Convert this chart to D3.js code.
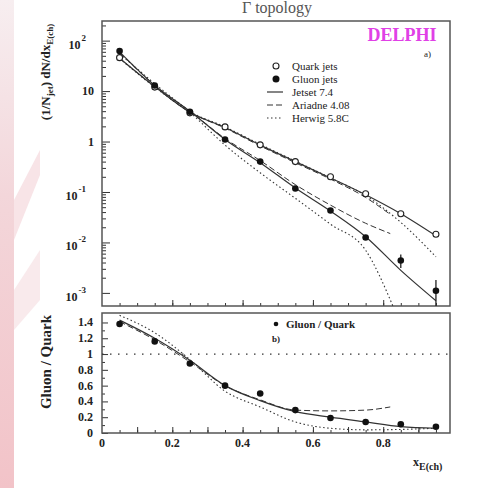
<!DOCTYPE html>
<html>
<head>
<meta charset="utf-8">
<script src="https://cdn.jsdelivr.net/npm/d3@7"></script>
<style>
  body { margin: 0; background: #fff; }
  svg { display: block; font-family: "Liberation Serif", "DejaVu Serif", serif; }
  .axis path { stroke: none; }
  .axis line { stroke: #333; }
</style>
</head>
<body>
<svg id="chart"></svg>
<script>
// data
const xBins = [0.05, 0.15, 0.25, 0.35, 0.45, 0.55, 0.65, 0.75, 0.85, 0.95];
const quarkData = [46, 12, 3.7, 1.95, 0.86, 0.40, 0.20, 0.092, 0.037, 0.0145];
const gluonData = [62, 12.9, 3.9, 1.1, 0.40, 0.117, 0.043, 0.0125, 0.0044, 0.0011];
const gluonErrLo = [null, null, null, null, null, null, null, null, 0.0031, 0.0003];
const gluonErrHi = [null, null, null, null, null, null, null, null, 0.0058, 0.0018];

const jetsetQuark = [45, 12.3, 3.8, 1.9, 0.85, 0.40, 0.19, 0.088, 0.037, 0.0135];
const jetsetGluon = [60, 13, 4.0, 1.1, 0.38, 0.12, 0.042, 0.013, 0.0028, 0.0007];
const ariadneX = [0.05, 0.15, 0.25, 0.35, 0.45, 0.55, 0.65, 0.75, 0.82];
const ariadneQuark = [45, 12.2, 3.8, 1.85, 0.82, 0.38, 0.18, 0.078, 0.036];
const ariadneGluon = [58, 13, 4.0, 1.15, 0.42, 0.14, 0.055, 0.024, 0.015];
const herwigX = [0.05, 0.15, 0.25, 0.35, 0.45, 0.55, 0.65, 0.75, 0.85, 0.95];
const herwigQuark = [44, 12, 3.9, 1.95, 0.88, 0.41, 0.19, 0.085, 0.025, 0.0052];
const herwigGluonX = [0.05, 0.15, 0.25, 0.35, 0.45, 0.55, 0.65, 0.75, 0.83];
const herwigGluon = [55, 14, 3.8, 0.85, 0.24, 0.075, 0.023, 0.007, 0.0005];

const ratioData = [1.38, 1.16, 0.88, 0.60, 0.50, 0.29, 0.19, 0.14, 0.11, 0.08];
const jetsetRatio = [1.43, 1.2, 0.92, 0.6, 0.41, 0.27, 0.2, 0.14, 0.08, 0.06];
const ariadneRatio = [1.41, 1.18, 0.9, 0.6, 0.42, 0.29, 0.28, 0.29, 0.33];
const herwigRatio = [1.49, 1.27, 0.93, 0.53, 0.33, 0.14, 0.06, 0.04, 0.045, 0.06];

const decades = [1e-3, 1e-2, 1e-1, 1, 10, 100];
const decadeLabels = [["10", "-3"], ["10", "-2"], ["10", "-1"], ["1", ""], ["10", ""], ["10", "2"]];
const ratioTicks = [0, 0.2, 0.4, 0.6, 0.8, 1, 1.2, 1.4];
const ratioLabels = ["0", "0.2", "0.4", "0.6", "0.8", "1", "1.2", "1.4"];
const xTicks = [0, 0.2, 0.4, 0.6, 0.8];
const xLabels = ["0", "0.2", "0.4", "0.6", "0.8"];

const svgWidth = 485, svgHeight = 488;
const frame = {left: 102, right: 450, top: 21, mid1: 306, mid2: 313, bottom: 433};

const chart = d3.select('#chart')
    .attr("width", svgWidth)
    .attr("height", svgHeight);

// pinkish slide edge on the left
const defs = chart.append("defs");
const grad = defs.append("linearGradient").attr("id", "edge")
    .attr("x1", 0).attr("y1", 0).attr("x2", 0).attr("y2", 1);
grad.append("stop").attr("offset", "0%").attr("stop-color", "#f7eef0");
grad.append("stop").attr("offset", "40%").attr("stop-color", "#f3d6da");
grad.append("stop").attr("offset", "100%").attr("stop-color", "#f2c3c8");
chart.append("rect").attr("x", 0).attr("y", 0).attr("width", 14).attr("height", svgHeight)
    .attr("fill", "url(#edge)");
chart.append("path").attr("d", "M14,200 L40,150 L40,175 L14,240 Z").attr("fill", "#f8e4e7");
chart.append("path").attr("d", "M14,290 L40,250 L40,300 L14,330 Z").attr("fill", "#f9eaec");

defs.append("clipPath").attr("id", "clipTop").append("rect")
    .attr("x", frame.left).attr("y", frame.top)
    .attr("width", frame.right - frame.left).attr("height", frame.mid1 - frame.top);
defs.append("clipPath").attr("id", "clipBot").append("rect")
    .attr("x", frame.left).attr("y", frame.mid2)
    .attr("width", frame.right - frame.left).attr("height", frame.bottom - frame.mid2);

// scales
var xScale = d3.scaleLinear().domain([0, 0.99]).range([frame.left, frame.right]);
var yTop = d3.scaleLog().domain([5.5e-4, 245]).range([frame.mid1, frame.top]);
var yBot = d3.scaleLinear().domain([0, 1.52]).range([frame.bottom, frame.mid2]);

// title (cut off at the top of the slide)
chart.append("text").attr("x", 277).attr("y", 13)
    .attr("text-anchor", "middle").style("font-size", "16px").style("fill", "#555")
    .text("Γ topology");

// axes - top panel
chart.append("g").attr("class", "axis")
    .attr("transform", "translate(" + frame.left + ",0)")
    .call(d3.axisLeft(yTop).tickValues(decades).tickSize(-8).tickFormat(""));
var minors = [];
decades.forEach(function(d) { for (var k = 2; k <= 9; k++) minors.push(d * k); });
minors = minors.filter(function(v) { return v < 245; });
chart.append("g").attr("class", "axis")
    .attr("transform", "translate(" + frame.left + ",0)")
    .call(d3.axisLeft(yTop).tickValues(minors).tickSize(-4).tickFormat(""));

var labs = chart.append("g").selectAll("text").data(decades).enter().append("text")
    .attr("x", 94)
    .attr("y", function(d) { return yTop(d) + 4; })
    .attr("text-anchor", "end")
    .style("font-size", "12px").style("font-weight", "bold").style("fill", "#222");
labs.each(function(d, i) {
    var t = d3.select(this);
    var lab = decadeLabels[i];
    if (lab[1] === "") {
        t.text(lab[0]);
    } else {
        t.attr("x", 86).attr("y", yTop(d) + 8);
        t.append("tspan").text(lab[0]);
        t.append("tspan").attr("dy", -8).attr("dx", 1).style("font-size", "9px").text(lab[1]);
    }
});

chart.append("g").attr("class", "axis")
    .attr("transform", "translate(0," + frame.mid1 + ")")
    .call(d3.axisBottom(xScale).tickValues(d3.range(0.05, 0.99, 0.05)).tickSize(-3).tickFormat(""));
chart.append("g").attr("class", "axis")
    .attr("transform", "translate(0," + frame.mid1 + ")")
    .call(d3.axisBottom(xScale).tickValues([0.2, 0.4, 0.6, 0.8]).tickSize(-6).tickFormat(""));

// axes - bottom panel
chart.append("g").attr("class", "axis")
    .attr("transform", "translate(" + frame.left + ",0)")
    .call(d3.axisLeft(yBot).tickValues(ratioTicks).tickSize(-6).tickFormat(""));
chart.append("g").attr("class", "axis")
    .attr("transform", "translate(" + frame.left + ",0)")
    .call(d3.axisLeft(yBot).tickValues(d3.range(0.1, 1.5, 0.2)).tickSize(-3).tickFormat(""));
chart.append("g").selectAll("text").data(ratioTicks).enter().append("text")
    .attr("x", 93)
    .attr("y", function(d) { return yBot(d) + 4; })
    .attr("text-anchor", "end")
    .style("font-size", "12px").style("font-weight", "bold").style("fill", "#222")
    .text(function(d, i) { return ratioLabels[i]; });

chart.append("g").attr("class", "axis")
    .attr("transform", "translate(0," + frame.bottom + ")")
    .call(d3.axisBottom(xScale).tickValues(d3.range(0.05, 0.99, 0.05)).tickSize(-3).tickFormat(""));
chart.append("g").attr("class", "axis")
    .attr("transform", "translate(0," + frame.bottom + ")")
    .call(d3.axisBottom(xScale).tickValues([0.1, 0.2, 0.3, 0.4, 0.5, 0.6, 0.7, 0.8, 0.9]).tickSize(-6).tickFormat(""));
chart.append("g").selectAll("text").data(xTicks).enter().append("text")
    .attr("x", function(d) { return xScale(d); })
    .attr("y", 447)
    .attr("text-anchor", "middle")
    .style("font-size", "12px").style("font-weight", "bold").style("fill", "#222")
    .text(function(d, i) { return xLabels[i]; });

// frames
chart.append("rect").attr("x", frame.left).attr("y", frame.top)
    .attr("width", frame.right - frame.left).attr("height", frame.mid1 - frame.top)
    .attr("fill", "none").attr("stroke", "#555").attr("stroke-width", 1.5);
chart.append("rect").attr("x", frame.left).attr("y", frame.mid2)
    .attr("width", frame.right - frame.left).attr("height", frame.bottom - frame.mid2)
    .attr("fill", "none").attr("stroke", "#555").attr("stroke-width", 1.5);

// axis titles
var yt = chart.append("text")
    .attr("transform", "translate(50,72) rotate(-90)")
    .attr("text-anchor", "middle")
    .style("font-size", "13px").style("font-weight", "bold").style("fill", "#222");
yt.append("tspan").text("(1/N");
yt.append("tspan").attr("dy", 3).style("font-size", "9px").text("jet");
yt.append("tspan").attr("dy", -3).text(") dN/dx");
yt.append("tspan").attr("dy", 3).style("font-size", "9px").text("E(ch)");

chart.append("text")
    .attr("transform", "translate(51,362) rotate(-90)")
    .attr("text-anchor", "middle")
    .style("font-size", "15px").style("font-weight", "bold").style("fill", "#222")
    .text("Gluon / Quark");

var xt = chart.append("text").attr("x", 413).attr("y", 466)
    .style("font-size", "12px").style("font-weight", "bold").style("fill", "#222");
xt.append("tspan").text("x");
xt.append("tspan").attr("dy", 4).style("font-size", "10px").text("E(ch)");

// curves
function makeLine(xs, ys, y) {
    return d3.line()
        .x(function(d, i) { return xScale(xs[i]); })
        .y(function(d) { return y(d); })
        .curve(d3.curveMonotoneX)(ys);
}

var topG = chart.append("g").attr("clip-path", "url(#clipTop)");
var styles = {
    jetset: {dash: null, w: 1.2},
    ariadne: {dash: "6,3", w: 1.0},
    herwig: {dash: "1.5,2.5", w: 1.1}
};
function drawCurve(g, xs, ys, y, st) {
    g.append("path").attr("d", makeLine(xs, ys, y))
        .attr("fill", "none").attr("stroke", "#333")
        .attr("stroke-width", st.w)
        .attr("stroke-dasharray", st.dash);
}
drawCurve(topG, xBins, jetsetQuark, yTop, styles.jetset);
drawCurve(topG, xBins, jetsetGluon, yTop, styles.jetset);
drawCurve(topG, ariadneX, ariadneQuark, yTop, styles.ariadne);
drawCurve(topG, ariadneX, ariadneGluon, yTop, styles.ariadne);
drawCurve(topG, herwigX, herwigQuark, yTop, styles.herwig);
drawCurve(topG, herwigGluonX, herwigGluon, yTop, styles.herwig);

// error bars
topG.append("g").selectAll("line").data(xBins.map(function(x, i) { return i; })
        .filter(function(i) { return gluonErrLo[i] !== null; }))
    .enter().append("line")
    .attr("x1", function(i) { return xScale(xBins[i]); })
    .attr("x2", function(i) { return xScale(xBins[i]); })
    .attr("y1", function(i) { return yTop(gluonErrLo[i]); })
    .attr("y2", function(i) { return yTop(gluonErrHi[i]); })
    .attr("stroke", "#222").attr("stroke-width", 1.3);

// markers
topG.append("g").selectAll("circle").data(quarkData).enter().append("circle")
    .attr("cx", function(d, i) { return xScale(xBins[i]); })
    .attr("cy", function(d) { return yTop(d); })
    .attr("r", 3).attr("fill", "#fff").attr("stroke", "#222").attr("stroke-width", 1.1);
topG.append("g").selectAll("circle").data(gluonData).enter().append("circle")
    .attr("cx", function(d, i) { return xScale(xBins[i]); })
    .attr("cy", function(d) { return yTop(d); })
    .attr("r", 3.3).attr("fill", "#111");

// bottom panel
var botG = chart.append("g").attr("clip-path", "url(#clipBot)");
botG.append("line")
    .attr("x1", frame.left).attr("x2", frame.right)
    .attr("y1", yBot(1)).attr("y2", yBot(1))
    .attr("stroke", "#333").attr("stroke-width", 1.3).attr("stroke-dasharray", "1.5,6.5");
drawCurve(botG, xBins, jetsetRatio, yBot, styles.jetset);
drawCurve(botG, ariadneX, ariadneRatio, yBot, styles.ariadne);
drawCurve(botG, herwigX, herwigRatio, yBot, styles.herwig);
botG.append("g").selectAll("circle").data(ratioData).enter().append("circle")
    .attr("cx", function(d, i) { return xScale(xBins[i]); })
    .attr("cy", function(d) { return yBot(d); })
    .attr("r", 3.3).attr("fill", "#111");

// legend top
chart.append("text").attr("x", 402).attr("y", 41)
    .attr("text-anchor", "middle")
    .style("font-size", "18px").style("font-weight", "bold").style("fill", "#e040e6")
    .text("DELPHI");
chart.append("text").attr("x", 424).attr("y", 57)
    .style("font-size", "9px").style("fill", "#222").text("a)");

const legendNames = ["Quark jets", "Gluon jets", "Jetset 7.4", "Ariadne 4.08", "Herwig 5.8C"];
const legendY = [66, 79, 92, 105, 118];
var lg = chart.append("g");
lg.selectAll("text").data(legendNames).enter().append("text")
    .attr("x", 292).attr("y", function(d, i) { return legendY[i] + 4; })
    .style("font-size", "11px").style("fill", "#222")
    .text(function(d) { return d; });
lg.append("circle").attr("cx", 276).attr("cy", legendY[0]).attr("r", 3)
    .attr("fill", "#fff").attr("stroke", "#222").attr("stroke-width", 1.1);
lg.append("circle").attr("cx", 276).attr("cy", legendY[1]).attr("r", 3.5).attr("fill", "#111");
[styles.jetset, styles.ariadne, styles.herwig].forEach(function(st, k) {
    lg.append("line").attr("x1", 267).attr("x2", 283)
        .attr("y1", legendY[k + 2]).attr("y2", legendY[k + 2])
        .attr("stroke", "#333").attr("stroke-width", st.w)
        .attr("stroke-dasharray", st.dash);
});

// legend bottom
chart.append("circle").attr("cx", 276).attr("cy", 324).attr("r", 2.3).attr("fill", "#111");
chart.append("text").attr("x", 286).attr("y", 328)
    .style("font-size", "11px").style("font-weight", "bold").style("fill", "#222")
    .text("Gluon / Quark");
chart.append("text").attr("x", 272).attr("y", 342)
    .style("font-size", "9px").style("font-weight", "bold").style("fill", "#222").text("b)");
</script>
</body>
</html>
